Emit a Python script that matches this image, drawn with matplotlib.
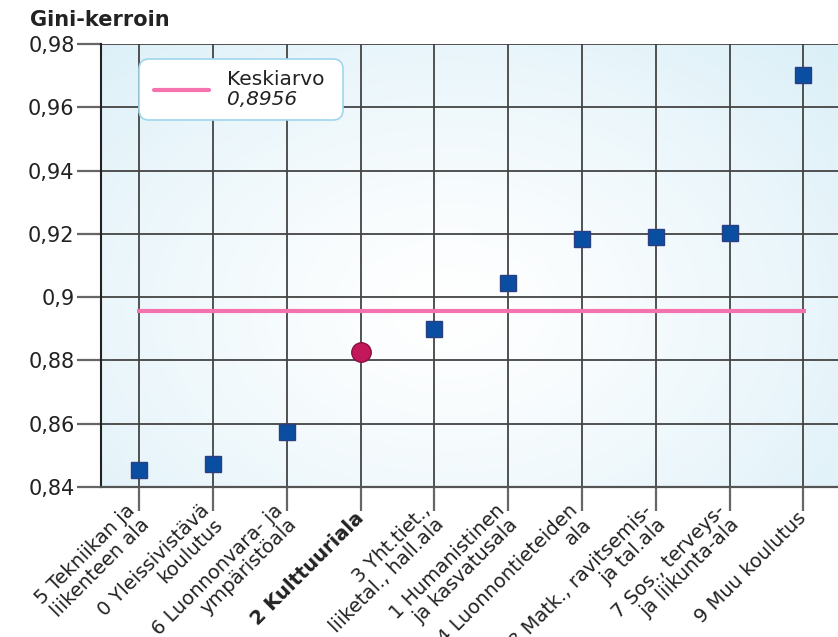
import numpy as np
from matplotlib import pyplot as plt
from matplotlib.lines import Line2D
from matplotlib.offsetbox import AnchoredOffsetbox, DrawingArea, TextArea, HPacker, VPacker

plt.rcParams['font.family'] = ['DejaVu Sans']

categories = ["5 Tekniikan ja\nliikenteen ala", "0 Yleissivistävä\nkoulutus",
              "6 Luonnonvara- ja\nympäristöala", "2 Kulttuuriala",
              "3 Yht.tiet.,\nliiketal., hall.ala", "1 Humanistinen\nja kasvatusala",
              "4 Luonnontieteiden\nala", "8 Matk., ravitsemis-\nja tal.ala",
              "7 Sos., terveys-\nja liikunta-ala", "9 Muu koulutus"]
gini = [0.8454, 0.8473, 0.8574, 0.8827, 0.8899, 0.9045, 0.9184, 0.9190, 0.9203, 0.9702]
highlight = "2 Kulttuuriala"
mean_value = 0.8956
mean_label = "0,8956"
y_ticks = [0.84, 0.86, 0.88, 0.90, 0.92, 0.94, 0.96, 0.98]
y_labels = ["0,84", "0,86", "0,88", "0,9", "0,92", "0,94", "0,96", "0,98"]

PINK = '#f472ae'
TXT = '#222222'

fig = plt.figure(figsize=(8.38, 6.37), dpi=100)
ax = fig.add_axes([101 / 838, 1 - 487 / 637, 1 - 101 / 838, (487 - 44) / 637])

# radial background gradient
gx, gy = np.meshgrid(np.linspace(0, 1, 300), np.linspace(0, 1, 300))
r = np.sqrt(((gx - 0.47) / 0.75) ** 2 + ((gy - 0.4) / 0.9) ** 2)
r = np.clip(r, 0, 1) ** 1.3
c0 = np.array([1.0, 1.0, 1.0])
c1 = np.array([0.85, 0.935, 0.97])
img = c0 + (c1 - c0) * r[..., None]
ax.imshow(img, extent=[0, 1, 0, 1], transform=ax.transAxes, aspect='auto',
          origin='lower', zorder=0)

x = np.arange(len(categories))
ax.set_xlim(-0.52, len(categories) - 0.53)
ax.set_ylim(0.84, 0.98)

ax.set_xticks(x)
ax.set_xticklabels(categories, rotation=45, ha='right', va='center',
                   rotation_mode='anchor', fontsize=14, color=TXT,
                   multialignment='right', linespacing=1.05)
for lab in ax.get_xticklabels():
    if lab.get_text() == highlight:
        lab.set_fontweight('bold')
ax.set_yticks(y_ticks)
ax.set_yticklabels(y_labels, fontsize=15, color=TXT)
ax.tick_params(axis='both', length=17, width=1.6, color='#666666')
ax.tick_params(axis='x', pad=3)
ax.tick_params(axis='y', pad=2)
ax.grid(True, color='#444444', linewidth=1.3, zorder=1)
ax.set_axisbelow(True)

for s in ['top', 'right']:
    ax.spines[s].set_visible(False)
ax.spines['left'].set_color('#222222')
ax.spines['left'].set_linewidth(1.5)
ax.spines['bottom'].set_color('#555555')
ax.spines['bottom'].set_linewidth(1.6)

ax.plot([x[0] - 0.03, x[-1] + 0.03], [mean_value, mean_value], color=PINK,
        linewidth=3, zorder=3, solid_capstyle='butt')

for xi, v, c in zip(x, gini, categories):
    if c == highlight:
        ax.plot(xi, v, 'o', markersize=14, markerfacecolor='#c2185b',
                markeredgecolor='#8a1040', markeredgewidth=1, zorder=4)
    else:
        ax.plot(xi, v, 's', markersize=11, markerfacecolor='#0a4ea2',
                markeredgecolor='#2a3f80', markeredgewidth=1, zorder=4)

# legend box built by hand (second line italic)
pt = 0.72  # points per pixel at dpi 100
da = DrawingArea(59 * pt, 20 * pt, 0, 0)
da.add_artist(Line2D([4 * pt, 59 * pt], [10 * pt, 10 * pt], color=PINK, linewidth=3,
                     solid_capstyle='round'))
texts = VPacker(children=[TextArea("Keskiarvo", textprops=dict(size=14.5, color=TXT)),
                          TextArea(mean_label, textprops=dict(size=14.5, color=TXT,
                                                              style='italic'))],
                align='left', pad=0, sep=1)
row = HPacker(children=[da, texts], align='center', pad=0, sep=18 * pt)
outer = HPacker(children=[row, DrawingArea(8 * pt, 1, 0, 0)], align='center', pad=0, sep=0)
leg = AnchoredOffsetbox(loc='upper left', child=outer, pad=0.65, borderpad=0,
                        frameon=True, prop=dict(size=12),
                        bbox_to_anchor=((139 - 101) / 737, (487 - 59) / 443),
                        bbox_transform=ax.transAxes)
leg.patch.set_boxstyle("round,pad=0,rounding_size=0.6")
leg.patch.set_edgecolor('#9fd6ee')
leg.patch.set_linewidth(1.2)
leg.patch.set_facecolor('white')
leg.set_zorder(5)
ax.add_artist(leg)

fig.text(30 / 838, 1 - 20 / 637, "Gini-kerroin", fontsize=15, fontweight='bold',
         color=TXT, va='center', ha='left')

fig.savefig("out.png", dpi=100)
